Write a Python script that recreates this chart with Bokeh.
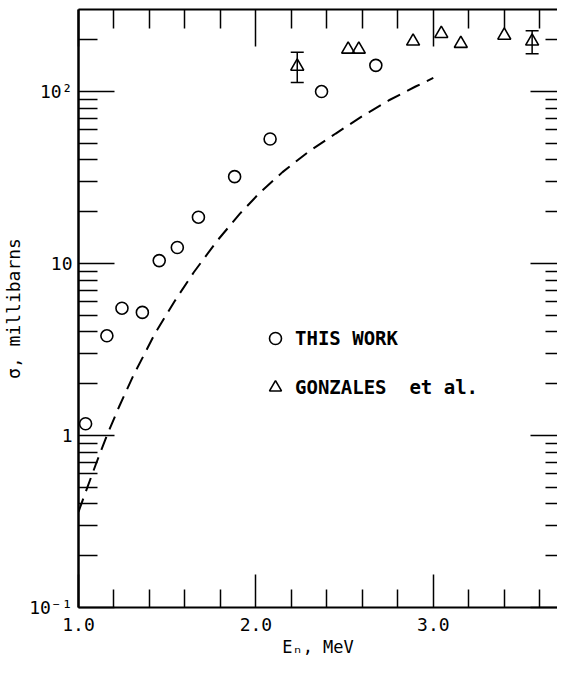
from bokeh.plotting import figure
from bokeh.models import (FixedTicker, LinearAxis, LogAxis, Range1d, Whisker,
                          TeeHead, ColumnDataSource, Legend, LegendItem,
                          CustomJSTickFormatter)
from bokeh.embed import file_html
from bokeh.resources import INLINE

# ---- data ----
this_work_e = [1.04, 1.16, 1.245, 1.36, 1.455, 1.557, 1.676, 1.88, 2.08, 2.37, 2.676]
this_work_sigma = [1.17, 3.8, 5.5, 5.2, 10.4, 12.4, 18.6, 32, 53, 100, 142]

gonzales_e = [2.233, 2.52, 2.58, 2.886, 3.045, 3.155, 3.40, 3.557]
gonzales_sigma = [140, 176, 176, 196, 217, 190, 212, 196]
gonzales_err_e = [2.233, 3.557]
gonzales_err_low = [113, 166]
gonzales_err_high = [169, 226]

calc_e = [1.00, 1.05, 1.10, 1.16, 1.23, 1.31, 1.43, 1.54, 1.65, 1.78, 1.91,
          2.02, 2.15, 2.30, 2.45, 2.60, 2.75, 2.90, 3.00]
calc_sigma = [0.36, 0.50, 0.69, 1.0, 1.48, 2.24, 3.9, 6.0, 8.9, 13.5, 19.5,
              25.7, 34, 45, 57, 72, 89, 107, 120]

x_major = [1.0, 2.0, 3.0]
x_minor = [1.2, 1.4, 1.6, 1.8, 2.2, 2.4, 2.6, 2.8, 3.2, 3.4, 3.6]
x_labels = {1: "1.0", 2: "2.0", 3: "3.0"}
y_major = [0.1, 1, 10, 100]
y_minor = [0.2, 0.3, 0.4, 0.5, 0.6, 0.7, 0.8, 0.9,
           2, 3, 4, 5, 6, 7, 8, 9,
           20, 30, 40, 50, 60, 70, 80, 90, 200]
y_labels = {0.1: "10\u207b\u00b9", 1: "1", 10: "10", 100: "10\u00b2"}

FONT = "DejaVu Sans Mono"

p = figure(width=557, height=661, y_axis_type="log",
           x_range=Range1d(1.0, 3.70), y_range=Range1d(0.1, 300),
           output_backend="svg", toolbar_location=None,
           min_border_left=72, min_border_right=0, min_border_top=9,
           min_border_bottom=54, x_axis_location=None, y_axis_location=None)
p.grid.visible = False
p.outline_line_color = None
p.background_fill_color = "white"
p.border_fill_color = "white"

xt = FixedTicker(ticks=x_major, minor_ticks=x_minor)
yt = FixedTicker(ticks=y_major, minor_ticks=y_minor)


def style(ax, major_in, minor_in, show_labels, line=True, lw=2):
    ax.major_tick_out = 0
    ax.minor_tick_out = 0
    ax.major_tick_in = major_in
    ax.minor_tick_in = minor_in
    ax.major_tick_line_width = 1.5
    ax.minor_tick_line_width = 1.5
    ax.major_tick_line_color = "black"
    ax.minor_tick_line_color = "black"
    ax.axis_line_width = lw
    ax.axis_line_color = "black" if line else None
    if not show_labels:
        ax.formatter = CustomJSTickFormatter(code="return ''")
        ax.major_label_standoff = 0
        ax.major_label_text_font_size = "1px"
    else:
        ax.major_label_text_font = FONT
        ax.major_label_text_font_size = "18px"
        ax.major_label_text_color = "black"
    ax.axis_label_text_font = FONT
    ax.axis_label_text_font_style = "normal"
    ax.axis_label_text_color = "black"


bottom = LinearAxis(ticker=xt, major_label_overrides=x_labels,
                    axis_label="E\u2099, MeV")
style(bottom, 33, 18, True)
bottom.major_label_standoff = 10
bottom.axis_label_text_font_size = "17px"
bottom.axis_label_standoff = 3
p.add_layout(bottom, "below")

top = LinearAxis(ticker=xt)
style(top, 37, 19, False)
p.add_layout(top, "above")

left = LogAxis(ticker=yt, major_label_overrides=y_labels,
               axis_label="\u03c3, millibarns")
style(left, 36, 19, True, lw=2.5)
left.major_label_standoff = 6
left.axis_label_text_font_size = "18px"
left.axis_label_standoff = 2
p.add_layout(left, "left")

right = LogAxis(ticker=yt)
style(right, 27, 12, False, line=False)
p.add_layout(right, "right")

# calculation (dashed)
p.line(calc_e, calc_sigma, line_color="black", line_width=2, line_dash="14 8")

r1 = p.scatter(this_work_e, this_work_sigma, marker="circle", size=12,
               fill_color=None, line_color="black", line_width=1.6)
r2 = p.scatter(gonzales_e, gonzales_sigma, marker="triangle", size=13,
               fill_color=None, line_color="black", line_width=1.6)

err_src = ColumnDataSource(dict(x=gonzales_err_e, lo=gonzales_err_low,
                                hi=gonzales_err_high))
wh = Whisker(source=err_src, base="x", lower="lo", upper="hi",
             dimension="height", line_color="black", line_width=1.5,
             upper_head=TeeHead(size=13, line_width=1.5, line_color="black"),
             lower_head=TeeHead(size=13, line_width=1.5, line_color="black"))
p.add_layout(wh)

legend = Legend(items=[LegendItem(label="THIS WORK", renderers=[r1]),
                       LegendItem(label="GONZALES\u00a0\u00a0et al.", renderers=[r2])],
                location=(182, 205), border_line_color=None,
                background_fill_alpha=0, padding=0, margin=0, spacing=19,
                glyph_width=30, glyph_height=30, label_height=30,
                label_standoff=5, label_text_font=FONT,
                label_text_font_style="bold", label_text_font_size="19px",
                label_text_color="black")
p.add_layout(legend)

open("out.html", "w").write(file_html(p, INLINE))
